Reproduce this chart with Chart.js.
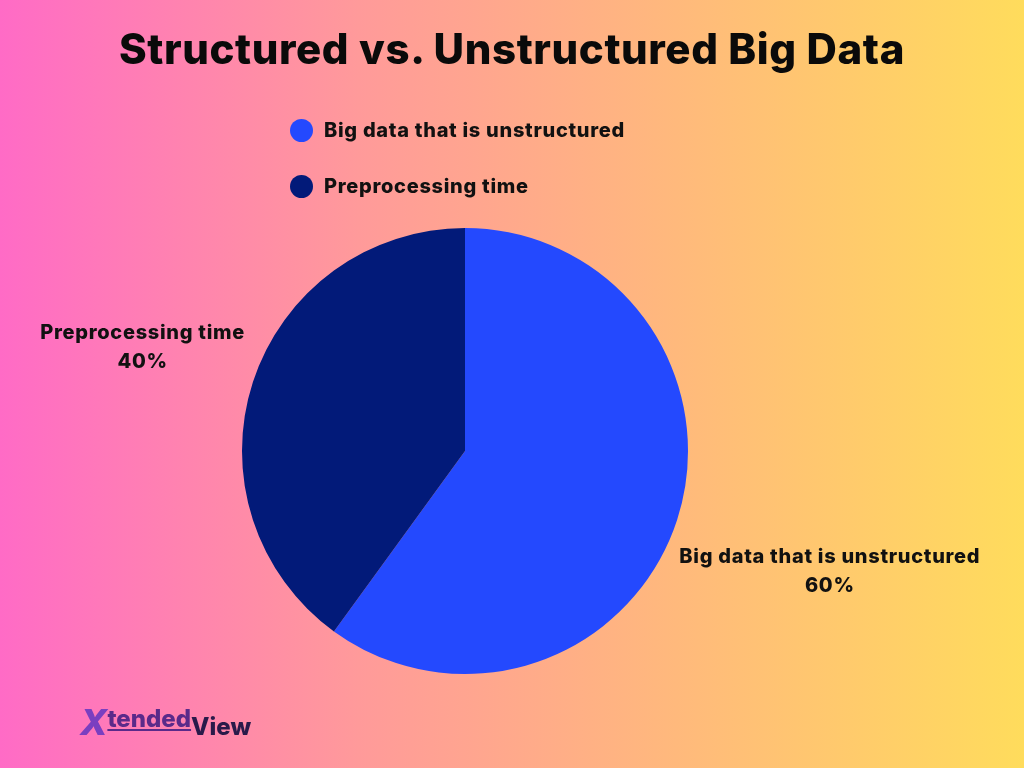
<!DOCTYPE html>
<html><head><meta charset="utf-8">
<script src="https://cdn.jsdelivr.net/npm/chart.js@4"></script>
<style>
html,body{margin:0;padding:0;}
body{width:1024px;height:768px;position:relative;overflow:hidden;background:linear-gradient(90deg,#ff6bc6 0%,#ff9a9a 35%,#ffb87d 65%,#ffdc5c 100%);font-family:Inter,"Open Sans",sans-serif;}
#t{position:absolute;top:23px;left:0;width:1024px;text-align:center;font-size:42px;font-weight:800;color:#0a0a0a;letter-spacing:0.6px}
.lg{position:absolute;left:290px;font-size:20px;font-weight:800;color:#111;display:flex;align-items:center;letter-spacing:0.7px}
.lg span{display:inline-block;width:23px;height:23px;border-radius:50%;margin-right:11px}
canvas{position:absolute;left:0;top:0}
#logo{position:absolute;left:80px;top:700px;font-weight:800;color:#5a2a8a;font-size:24px}
</style></head><body>
<canvas id="c" width="1024" height="768"></canvas>
<div id="t">Structured vs. Unstructured Big Data</div>
<div id="legend"></div>
<div id="logo"><span style="font-size:36px;color:#7a3fc0;font-style:italic">X</span><span style="position:relative;top:-8px;text-decoration:underline">tended</span><span style="color:#2a1a4a">View</span></div>
<script>
const labels=["Big data that is unstructured","Preprocessing time"];
const values=[60,40];
const colors=["#2449fe","#021a79"];
const lg=document.getElementById('legend');
labels.forEach((l,i)=>{const d=document.createElement('div');d.className='lg';d.style.top=(118+i*56)+'px';d.innerHTML='<span style="background:'+colors[i]+'"></span>'+l;lg.appendChild(d);});
const dist=[1.72,1.52];
const lblPlugin={id:'lbl',afterDatasetsDraw(ch){const ctx=ch.ctx;ch.getDatasetMeta(0).data.forEach((a,i)=>{const m=(a.startAngle+a.endAngle)/2;const x=a.x+Math.cos(m)*a.outerRadius*dist[i];const y=a.y+Math.sin(m)*a.outerRadius*dist[i];ctx.save();ctx.fillStyle='#111';ctx.font='800 20px Inter';ctx.letterSpacing='0.7px';ctx.textAlign='center';ctx.textBaseline='middle';ctx.fillText(labels[i],x,y-13);ctx.fillText(values[i]+'%',x,y+16);ctx.restore();});}};
new Chart(document.getElementById('c'),{type:'pie',data:{labels,datasets:[{data:values,backgroundColor:colors,borderWidth:0}]},
options:{responsive:false,animation:false,layout:{padding:{left:242,right:336,top:228,bottom:94}},plugins:{legend:{display:false},tooltip:{enabled:false}}},plugins:[lblPlugin]});
</script></body></html>
